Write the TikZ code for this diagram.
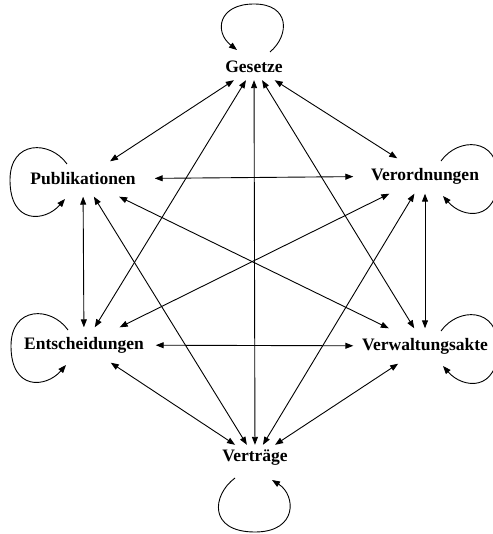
\documentclass[tikz,border=0pt]{standalone}
\usepackage{fontspec}
\setmainfont{Liberation Serif}
\usetikzlibrary{arrows.meta}
\begin{document}
\begin{tikzpicture}[x=1pt,y=-1pt,
  lbl/.style={font=\fontsize{17.5}{20}\selectfont\bfseries, inner sep=0pt},
  side/.style={lbl, minimum width=143pt, minimum height=35pt},
  pole/.style={lbl, minimum width=90pt, minimum height=26pt},
  tip/.tip={Triangle[length=8pt,width=6pt]},
  conn/.style={line width=0.9pt, tip-tip},
  loopc/.style={line width=0.9pt, -tip}]
\useasboundingbox (0,0) rectangle (492,534);
\node[pole] (G)  at (254,67)  {Gesetze};
\node[side] (P)  at (83,179)  {Publikationen};
\node[side] (Vo) at (425,176) {Verordnungen};
\node[side] (E)  at (84,345)  {Entscheidungen};
\node[side] (Va) at (425,346) {Verwaltungsakte};
\node[pole] (Vt) at (255,458) {Verträge};
% edges
\draw[conn] (G) -- (P);
\draw[conn] (G) -- (Vo);
\draw[conn] (G) -- (E);
\draw[conn] (G) -- (Va);
\draw[conn] (G) -- (Vt);
\draw[conn] (P) -- (Vo);
\draw[conn] (P) -- (E);
\draw[conn] (P) -- (Va);
\draw[conn] (P) -- (Vt);
\draw[conn] (Vo) -- (E);
\draw[conn] (Vo) -- (Va);
\draw[conn] (Vo) -- (Vt);
\draw[conn] (E) -- (Va);
\draw[conn] (E) -- (Vt);
\draw[conn] (Va) -- (Vt);
% loops
\draw[loopc] ([shift={(16,-15)}]G.center) .. controls ([shift={(36,-32)}]G.center) and ([shift={(36,-63)}]G.center) .. ([shift={(0,-63)}]G.center)
  .. controls ([shift={(-36,-63)}]G.center) and ([shift={(-40,-35)}]G.center) .. ([shift={(-17,-17)}]G.center);
\draw[loopc] ([shift={(-20,20)}]Vt.center) .. controls ([shift={(-43,37)}]Vt.center) and ([shift={(-47,74)}]Vt.center) .. ([shift={(0,74)}]Vt.center)
  .. controls ([shift={(43,74)}]Vt.center) and ([shift={(41,37)}]Vt.center) .. ([shift={(17,22)}]Vt.center);
\foreach \n in {P,E}{
\draw[loopc] ([shift={(-16,-15)}]\n.center) .. controls ([shift={(-33,-39)}]\n.center) and ([shift={(-73,-39)}]\n.center) .. ([shift={(-73,1)}]\n.center)
  .. controls ([shift={(-73,46)}]\n.center) and ([shift={(-38,43)}]\n.center) .. ([shift={(-18,20)}]\n.center);
}
\foreach \n in {Vo,Va}{
\draw[loopc] ([shift={(16,-15)}]\n.center) .. controls ([shift={(33,-39)}]\n.center) and ([shift={(73,-39)}]\n.center) .. ([shift={(73,1)}]\n.center)
  .. controls ([shift={(73,46)}]\n.center) and ([shift={(38,43)}]\n.center) .. ([shift={(18,20)}]\n.center);
}
\end{tikzpicture}
\end{document}
